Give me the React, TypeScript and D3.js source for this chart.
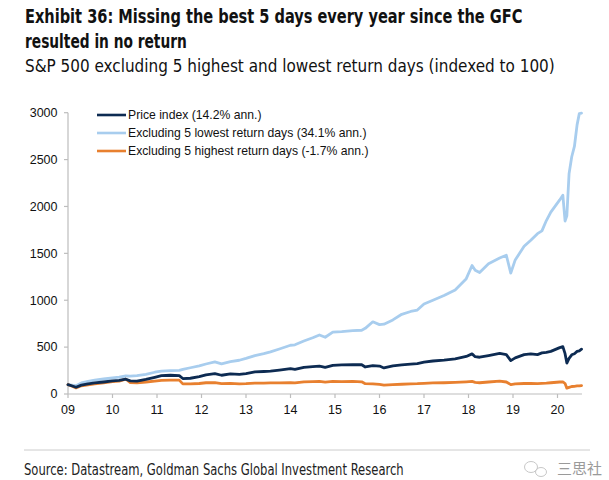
import React, { useLayoutEffect, useRef, useState } from "react";
import * as d3 from "d3";

// ---- data ----
const dates: number[] = [
  2009.0, 2009.08, 2009.18, 2009.3, 2009.45, 2009.6, 2009.8, 2010.0, 2010.15, 2010.3,
  2010.4, 2010.55, 2010.75, 2010.95, 2011.1, 2011.3, 2011.5, 2011.58, 2011.75, 2011.95,
  2012.1, 2012.3, 2012.45, 2012.65, 2012.85, 2013.0, 2013.2, 2013.4, 2013.55, 2013.75,
  2014.0, 2014.1, 2014.3, 2014.5, 2014.65, 2014.78, 2014.95, 2015.15, 2015.4, 2015.6,
  2015.68, 2015.85, 2016.0, 2016.1, 2016.3, 2016.5, 2016.7, 2016.85, 2017.0, 2017.2,
  2017.45, 2017.7, 2017.95, 2018.08, 2018.15, 2018.25, 2018.45, 2018.7, 2018.85, 2018.95,
  2019.05, 2019.25, 2019.4, 2019.55, 2019.65, 2019.75, 2019.85, 2020.05, 2020.12, 2020.17,
  2020.21, 2020.26, 2020.32, 2020.38, 2020.44, 2020.49, 2020.54,
];

const priceIndex: number[] = [
  100, 88, 72, 95, 108, 118, 128, 140, 145, 158,
  140, 138, 155, 178, 195, 200, 196, 165, 168, 185,
  205, 218, 200, 215, 210, 218, 235, 240, 245, 255,
  270, 262, 285, 292, 298, 285, 305, 310, 312, 312,
  288, 302, 298, 278, 300, 310, 318, 325, 340, 352,
  362, 375, 400, 428, 398, 392, 410, 432, 420, 356,
  385, 420, 428, 420, 438, 445, 455, 495, 505, 430,
  330, 380, 418, 430, 455, 460, 478,
];

const exLowest: number[] = [
  100, 95, 88, 118, 135, 148, 160, 172, 180, 192,
  190, 195, 210, 232, 245, 250, 252, 262, 280, 300,
  320, 342, 322, 345, 360, 380, 410, 430, 450, 480,
  520, 525, 565, 600, 630, 605, 660, 665, 675, 680,
  700, 770, 740, 745, 790, 850, 880, 895, 960, 1000,
  1050, 1110, 1230, 1370, 1320, 1295, 1390, 1450, 1480, 1290,
  1430, 1575, 1640, 1710, 1740, 1850, 1940, 2070, 2120, 1845,
  1900, 2350, 2530, 2640, 2870, 2990, 2995,
];

const exHighest: number[] = [
  100, 85, 65, 88, 98, 108, 118, 132, 138, 158,
  122, 118, 128, 138, 145, 148, 148, 108, 108, 112,
  120, 122, 110, 114, 108, 110, 116, 115, 118, 118,
  122, 118, 130, 132, 134, 126, 134, 132, 134, 130,
  110, 108, 102, 94, 100, 104, 108, 110, 114, 118,
  120, 124, 130, 134, 124, 120, 128, 138, 128, 100,
  108, 112, 114, 110, 114, 116, 120, 128, 130, 112,
  62, 70, 80, 82, 86, 86, 90,
];

const yTicks: number[] = [0, 500, 1000, 1500, 2000, 2500, 3000];
const xTickYears: number[] = [2009, 2010, 2011, 2012, 2013, 2014, 2015, 2016, 2017, 2018, 2019, 2020];
const xTickLabels: string[] = ["09", "10", "11", "12", "13", "14", "15", "16", "17", "18", "19", "20"];

const seriesNames: string[] = [
  "Price index (14.2% ann.)",
  "Excluding 5 lowest return days (34.1% ann.)",
  "Excluding 5 highest return days (-1.7% ann.)",
];
const seriesColors: string[] = ["#0d2b52", "#a8cdee", "#e8802f"];

const titleLines: string[] = [
  "Exhibit 36: Missing the best 5 days every year since the GFC",
  "resulted in no return",
];
const subtitle = "S&P 500 excluding 5 highest and lowest return days (indexed to 100)";
const source = "Source: Datastream, Goldman Sachs Global Investment Research";

const narrowFont = "'Liberation Sans Narrow', 'DejaVu Sans Condensed', 'Arial Narrow', sans-serif";
const axisFont = "'Liberation Sans', Arial, Helvetica, sans-serif";

function FitText(props: {
  x: number; y: number; width: number; size: number; weight?: string; fill?: string; children: string;
}) {
  const ref = useRef<SVGTextElement>(null);
  const [k, setK] = useState(1);
  useLayoutEffect(() => {
    if (ref.current) {
      const w = ref.current.getComputedTextLength();
      if (w > 0) setK(props.width / w);
    }
  }, [props.width, props.children]);
  return (
    <text
      ref={ref}
      transform={`translate(${props.x},${props.y}) scale(${k},1)`}
      fontFamily={narrowFont}
      fontWeight={props.weight || "normal"}
      fontSize={props.size}
      fill={props.fill || "#111"}
    >
      {props.children}
    </text>
  );
}

export default function App() {
  const W = 609;
  const H = 480;
  const x = d3.scaleLinear().domain([2009, 2021]).range([68, 602]);
  const y = d3.scaleLinear().domain([0, 3000]).range([394, 112.7]);
  const xEnd = x(2020.55);

  const line = d3
    .line<[number, number]>()
    .x((d) => x(d[0]))
    .y((d) => y(d[1]))
    .curve(d3.curveLinear);

  const allSeries = [priceIndex, exLowest, exHighest];
  // draw order: light blue, orange, navy on top
  const drawOrder = [1, 2, 0];

  return (
    <svg
      width={W}
      height={H}
      viewBox={`0 0 ${W} ${H}`}
      style={{ position: "absolute", left: 0, top: 0, background: "#fff" }}
    >
      <rect x={0} y={0} width={W} height={H} fill="#fff" />
      {/* Title */}
      <FitText x={25} y={23} width={498} size={19.5} weight="bold">{titleLines[0]}</FitText>
      <FitText x={25} y={48} width={162} size={19.5} weight="bold">{titleLines[1]}</FitText>
      <FitText x={25} y={72} width={530} size={17}>{subtitle}</FitText>

      {/* Axes */}
      <line x1={68} x2={68} y1={y(3000)} y2={y(0)} stroke="#bdbdbd" strokeWidth={1.2} />
      <line x1={68} x2={xEnd} y1={y(0)} y2={y(0)} stroke="#bdbdbd" strokeWidth={1.2} />
      {yTicks.map((t) => (
        <g key={"y" + t}>
          <line x1={64} x2={68} y1={y(t)} y2={y(t)} stroke="#bdbdbd" strokeWidth={1.2} />
          <text x={57.5} y={y(t)} dy="0.35em" textAnchor="end" fontFamily={axisFont} fontSize={12.5} fill="#111">
            {t}
          </text>
        </g>
      ))}
      {xTickYears.map((t, i) => (
        <g key={"x" + t}>
          <line x1={x(t)} x2={x(t)} y1={y(0)} y2={y(0) + 4} stroke="#bdbdbd" strokeWidth={1.2} />
          <text x={x(t)} y={414} textAnchor="middle" fontFamily={axisFont} fontSize={12.5} fill="#111">
            {xTickLabels[i]}
          </text>
        </g>
      ))}

      {/* Lines */}
      {drawOrder.map((si) => {
        const pts: [number, number][] = dates.map((d, i) => [d, allSeries[si][i]]);
        return (
          <path key={"s" + si} d={line(pts) || ""} fill="none" stroke={seriesColors[si]}
            strokeWidth={2.8} strokeLinejoin="round" strokeLinecap="round" />
        );
      })}

      {/* Legend */}
      {seriesNames.map((n, i) => (
        <g key={"l" + i}>
          <line x1={97} x2={126} y1={115 + i * 18} y2={115 + i * 18} stroke={seriesColors[i]} strokeWidth={2.6} />
          <text x={128} y={115 + i * 18} dy="0.35em" fontFamily={axisFont} fontSize={12.2} fill="#111">
            {n}
          </text>
        </g>
      ))}

      {/* Footer */}
      <line x1={24} x2={590} y1={450} y2={450} stroke="#cccccc" strokeWidth={1} />
      <FitText x={24} y={475} width={380} size={15} fill="#222">{source}</FitText>
      {/* watermark */}
      <g stroke="#c8c8c8" fill="none" strokeWidth={1}>
        <ellipse cx={531} cy={467} rx={6.5} ry={5.5} />
        <ellipse cx={541} cy={472} rx={5.5} ry={4.5} />
      </g>
      <text x={557} y={474} fontFamily="'Noto Sans CJK SC', sans-serif" fontSize={15} fill="#9a9a9a">
        三思社
      </text>
    </svg>
  );
}
